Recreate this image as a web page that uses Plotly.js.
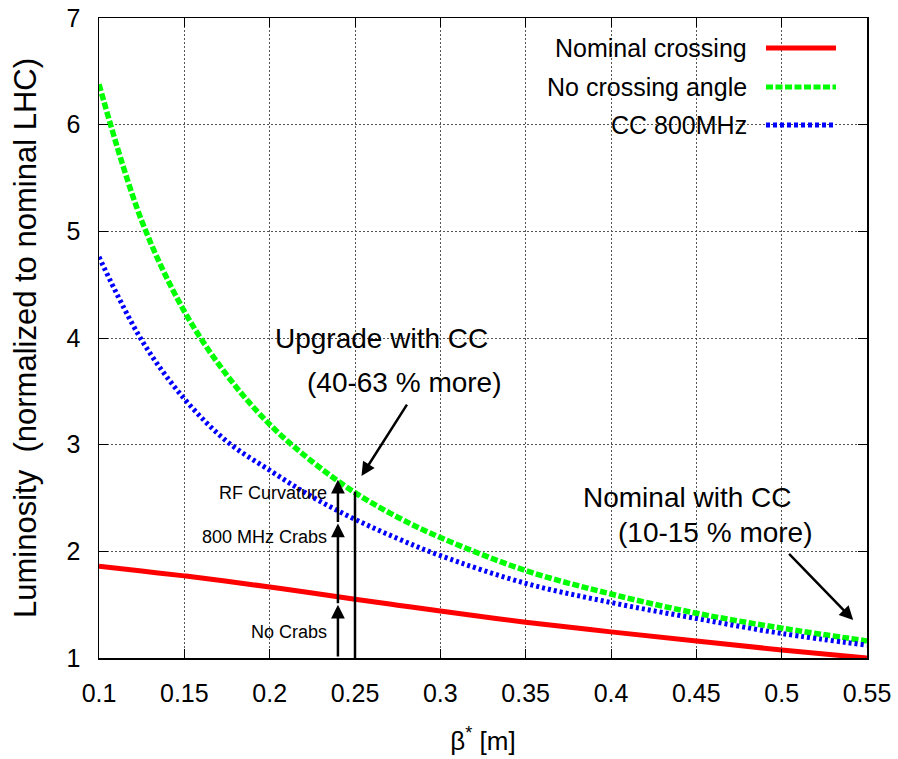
<!DOCTYPE html>
<html>
<head>
<meta charset="utf-8">
<script src="https://cdn.plot.ly/plotly-3.0.1.min.js"></script>
<style>html,body{margin:0;padding:0;background:#fff;}#chart{width:898px;height:759px;}</style>
</head>
<body>
<div id="chart"></div>
<script>
// beta* values [m]
const beta = [0.1, 0.125, 0.15, 0.175, 0.2, 0.225, 0.25, 0.275, 0.3, 0.35, 0.4, 0.45, 0.5, 0.55];
// Luminosity normalized to nominal LHC
const nominalCrossing = [1.86, 1.815, 1.77, 1.72, 1.665, 1.61, 1.55, 1.495, 1.44, 1.335, 1.245, 1.16, 1.075, 1.0];
const noCrossingAngle = [6.38, 5.10, 4.25, 3.65, 3.19, 2.84, 2.55, 2.32, 2.13, 1.82, 1.60, 1.42, 1.28, 1.16];
const cc800MHz = [4.76, 3.98, 3.43, 3.03, 2.76, 2.51, 2.30, 2.12, 1.96, 1.70, 1.52, 1.37, 1.23, 1.12];

const seriesNames = ['Nominal crossing', 'No crossing angle', 'CC 800MHz'];
const seriesColors = ['#ff0000', '#00ff00', '#0000ff'];

const xTickVals = [0.1, 0.15, 0.2, 0.25, 0.3, 0.35, 0.4, 0.45, 0.5, 0.55];
const xTickText = ['0.1', '0.15', '0.2', '0.25', '0.3', '0.35', '0.4', '0.45', '0.5', '0.55'];
const yTickVals = [1, 2, 3, 4, 5, 6, 7];
const yTickText = ['1', '2', '3', '4', '5', '6', '7'];

// stacked vertical arrows at beta* = 0.24 (tail -> head)
const stackX = 0.24;
const stackTail = [1.0, 1.5, 2.26];
const stackHead = [1.5, 2.26, 2.67];
const stackLabels = ['No Crabs', '800 MHz Crabs', 'RF Curvature'];
const stackLabelY = [1.244, 2.134, 2.546];
// vertical marker line at beta* = 0.25
const markX = 0.25;
const markTop = 2.56;

const FONT = 'Liberation Sans, Arial, Helvetica, sans-serif';

const styles = [
  {width: 5, dash: 'solid'},
  {width: 5.5, dash: '7px,2.5px'},
  {width: 5, dash: '3px,3px'}
];
const seriesY = [nominalCrossing, noCrossingAngle, cc800MHz];

const traces = seriesY.map((ys, i) => ({
  x: beta, y: ys, type: 'scatter', mode: 'lines', name: seriesNames[i],
  line: {color: seriesColors[i], width: styles[i].width, dash: styles[i].dash, shape: 'spline', smoothing: 1},
  showlegend: false, hoverinfo: 'skip'
}));

const annotations = [];
const shapes = [];

// legend background (hides grid)
shapes.push({type: 'rect', xref: 'paper', yref: 'paper', x0: 0.5046, x1: 0.9798, y0: 0.8188, y1: 1.0,
  fillcolor: '#ffffff', line: {width: 0}, layer: 'between'});

const legendRows = [0.9531, 0.8922, 0.8328];
const legendDash = ['solid', '7px,2.5px', '4px,3px'];
seriesNames.forEach((n, i) => {
  annotations.push({xref: 'paper', yref: 'paper', x: 0.8464, y: legendRows[i], xanchor: 'right', yanchor: 'middle',
    text: n, showarrow: false, font: {family: FONT, size: 25, color: '#000'}});
  shapes.push({type: 'line', xref: 'paper', yref: 'paper', x0: 0.8685, x1: 0.9596, y0: legendRows[i], y1: legendRows[i],
    line: {color: seriesColors[i], width: 5, dash: legendDash[i]}, layer: 'above'});
});

// stacked arrows
stackTail.forEach((t, i) => {
  annotations.push({x: stackX, y: stackHead[i], ax: stackX, ay: t, xref: 'x', yref: 'y', axref: 'x', ayref: 'y',
    text: '', showarrow: true, arrowhead: 2, arrowsize: 1.1, arrowwidth: 2.5, arrowcolor: '#000', standoff: 0, startstandoff: 0});
  annotations.push({x: 0.2349, y: stackLabelY[i], xref: 'x', yref: 'y', xanchor: 'right', yanchor: 'middle',
    text: stackLabels[i], showarrow: false, font: {family: FONT, size: 18, color: '#000'}});
});
shapes.push({type: 'line', xref: 'x', yref: 'y', x0: markX, x1: markX, y0: 1, y1: markTop,
  line: {color: '#000', width: 2.5}, layer: 'above'});

// big labels
annotations.push({x: 0.2018, y: 4.0, xref: 'x', yref: 'y', xanchor: 'left', yanchor: 'middle',
  text: 'Upgrade with CC', showarrow: false, font: {family: FONT, size: 28, color: '#000'}});
annotations.push({x: 0.2207, y: 3.587, xref: 'x', yref: 'y', xanchor: 'left', yanchor: 'middle',
  text: '(40-63 % more)', showarrow: false, font: {family: FONT, size: 28, color: '#000'}});
annotations.push({x: 0.2538, y: 2.706, ax: 0.281, ay: 3.39, xref: 'x', yref: 'y', axref: 'x', ayref: 'y',
  text: '', showarrow: true, arrowhead: 2, arrowsize: 1.1, arrowwidth: 2.5, arrowcolor: '#000', standoff: 0});
annotations.push({x: 0.3825, y: 2.509, xref: 'x', yref: 'y', xanchor: 'left', yanchor: 'middle',
  text: 'Nominal with CC', showarrow: false, font: {family: FONT, size: 28, color: '#000'}});
annotations.push({x: 0.4031, y: 2.18, xref: 'x', yref: 'y', xanchor: 'left', yanchor: 'middle',
  text: '(10-15 % more)', showarrow: false, font: {family: FONT, size: 28, color: '#000'}});
annotations.push({x: 0.5419, y: 1.356, ax: 0.5035, ay: 1.99, xref: 'x', yref: 'y', axref: 'x', ayref: 'y',
  text: '', showarrow: true, arrowhead: 2, arrowsize: 1.1, arrowwidth: 2.5, arrowcolor: '#000', standoff: 0});

const axisCommon = {
  showgrid: true, gridcolor: '#555', griddash: '2px,2px', gridwidth: 1,
  showline: true, linecolor: '#000', linewidth: 1.5, mirror: 'ticks',
  ticks: 'inside', ticklen: 9, tickcolor: '#000', tickwidth: 1,
  zeroline: false, tickfont: {family: FONT, size: 25, color: '#000'}
};

const layout = {
  width: 898, height: 759,
  margin: {l: 99, r: 31, t: 18, b: 101},
  paper_bgcolor: '#fff', plot_bgcolor: '#fff',
  showlegend: false,
  xaxis: Object.assign({}, axisCommon, {
    range: [0.1, 0.55], tickvals: xTickVals, ticktext: xTickText, ticklabelstandoff: 12,
    title: {text: 'β<sup>*</sup> [m]', font: {family: FONT, size: 26, color: '#000'}, standoff: 26}
  }),
  yaxis: Object.assign({}, axisCommon, {
    range: [1, 7], tickvals: yTickVals, ticktext: yTickText, ticklabelstandoff: 12,
    title: {text: 'Luminosity\u00a0 (normalized to nominal LHC)', font: {family: FONT, size: 31, color: '#000'}, standoff: 20}
  }),
  annotations: annotations,
  shapes: shapes
};

Plotly.newPlot('chart', traces, layout, {staticPlot: true, displayModeBar: false});
</script>
</body>
</html>
